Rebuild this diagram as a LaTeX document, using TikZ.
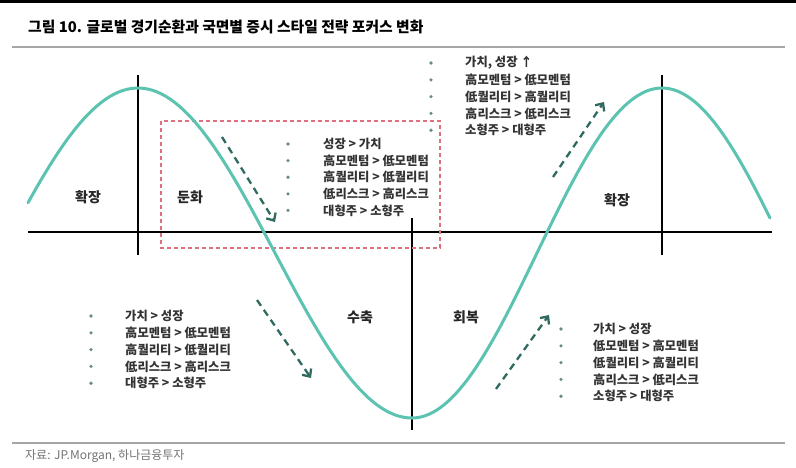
\documentclass[tikz,border=0pt]{standalone}
\usepackage{fontspec}
\usepackage{xcolor}
\usetikzlibrary{positioning, arrows.meta}
\setmainfont{Noto Sans CJK KR}

\definecolor{cycle}{HTML}{5CC3B1}
\definecolor{trendcol}{HTML}{2F6A60}
\definecolor{boxred}{HTML}{E07080}
\definecolor{txt}{HTML}{333333}
\definecolor{dotcol}{HTML}{6A8C85}

\begin{document}
\begin{tikzpicture}[x=1pt, y=-1pt,
    phase/.style={font=\fontsize{14}{16}\selectfont\bfseries, text=black!85},
    item/.style={anchor=west, inner sep=0pt, font=\fontsize{12.3}{14}\selectfont\bfseries, text=txt},
    bullet/.style={circle, fill=dotcol, inner sep=0pt, minimum size=3.6pt},
    trend/.style={trendcol, line width=2.3pt, dash pattern=on 7pt off 5pt,
                  -{Straight Barb[length=6pt, width=11pt]}},
    axis/.style={line width=1.7pt}]

   \useasboundingbox (0,0) rectangle (796,467);
   \fill (0,0) rectangle (796,3);

   % 제목, 출처
   \node[anchor=west, inner sep=0pt, font=\fontsize{14.8}{17}\selectfont\bfseries] (title) at (28,27)
      {그림 10. 글로벌 경기순환과 국면별 증시 스타일 전략 포커스 변화};
   \draw[gray!70, line width=1.2pt] (12,47) -- (785,47);
   \draw[gray!70, line width=1.2pt] (12,443) -- (785,443);
   \node[anchor=west, inner sep=0pt, text=gray!90!black, font=\fontsize{12}{14}\selectfont] (src) at (25,456)
      {자료: JP.Morgan, 하나금융투자};

   % 축
   \coordinate (axL) at (28,232);   \coordinate (axR) at (772,232);
   \coordinate (p1t) at (138,75);   \coordinate (p1b) at (138,255);
   \coordinate (trt) at (412,218);  \coordinate (trb) at (430,430);
   \coordinate (p2t) at (662,75);   \coordinate (p2b) at (662,255);
   \draw[axis] (axL) -- (axR);
   \draw[axis] (p1t) -- (p1b);
   \draw[axis] (trt) -- (trt |- trb);
   \draw[axis] (p2t) -- (p2b);

   % 둔화 구간 박스
   \draw[boxred, line width=1.2pt, dash pattern=on 4pt off 3pt] (161,121) rectangle (440,248);

   % 경기순환 곡선
   \draw[cycle, line width=3pt, line cap=round]
      plot[domain=28:412, samples=90] (\x, {253-165*cos((\x-138)/274*180)})
      -- plot[domain=412:770, samples=90] (\x, {253+165*cos((\x-412)/250*180)});

   % 국면
   \node[phase] (exp1) at (88,197) {확장};
   \node[phase] (slow) at (190,197) {둔화};
   \node[phase] (contr) at (360,317) {수축};
   \node[phase] (recov) at (466,317) {회복};
   \node[phase] (exp2) at (617,200) {확장};

   % 방향 화살표
   \coordinate (s1) at (222,137); \coordinate (e1) at (275,222);
   \coordinate (s2) at (257,300); \coordinate (e2) at (311,378);
   \coordinate (s3) at (496,389); \coordinate (e3) at (549,315);
   \coordinate (s4) at (553,177); \coordinate (e4) at (604,102);
   \draw[trend] (s1) -- (e1);
   \draw[trend] (s2) -- (e2);
   \draw[trend] (s3) -- (e3);
   \draw[trend] (s4) -- (e4);

   % 확장 국면 스타일
   \foreach \t [count=\i] in {{가치, 성장 ↑}, 高모멘텀 > 低모멘텀, 低퀄리티 > 高퀄리티, 高리스크 > 低리스크, 소형주 > 대형주} {
      \node[item] (ea\i) at (465, {63+16.8*(\i-1)}) {\t};
      \node[bullet] (eb\i) at (431, {63+16.8*(\i-1)}) {};
   }
   % 둔화 국면 스타일
   \foreach \t [count=\i] in {성장 > 가치, 高모멘텀 > 低모멘텀, 高퀄리티 > 低퀄리티, 低리스크 > 高리스크, 대형주 > 소형주} {
      \node[item] (sa\i) at (323, {144+16.6*(\i-1)}) {\t};
      \node[bullet] (sb\i) at (288, {144+16.6*(\i-1)}) {};
   }
   % 수축 국면 스타일
   \foreach \t [count=\i] in {가치 > 성장, 高모멘텀 > 低모멘텀, 高퀄리티 > 低퀄리티, 低리스크 > 高리스크, 대형주 > 소형주} {
      \node[item] (ca\i) at (125, {316+16.8*(\i-1)}) {\t};
      \node[bullet] (cb\i) at (91, {316+16.8*(\i-1)}) {};
   }
   % 회복 국면 스타일
   \foreach \t [count=\i] in {가치 > 성장, 低모멘텀 > 高모멘텀, 低퀄리티 > 高퀄리티, 高리스크 > 低리스크, 소형주 > 대형주} {
      \node[item] (ra\i) at (593, {329+16.8*(\i-1)}) {\t};
      \node[bullet] (rb\i) at (561, {329+16.8*(\i-1)}) {};
   }
\end{tikzpicture}
\end{document}
